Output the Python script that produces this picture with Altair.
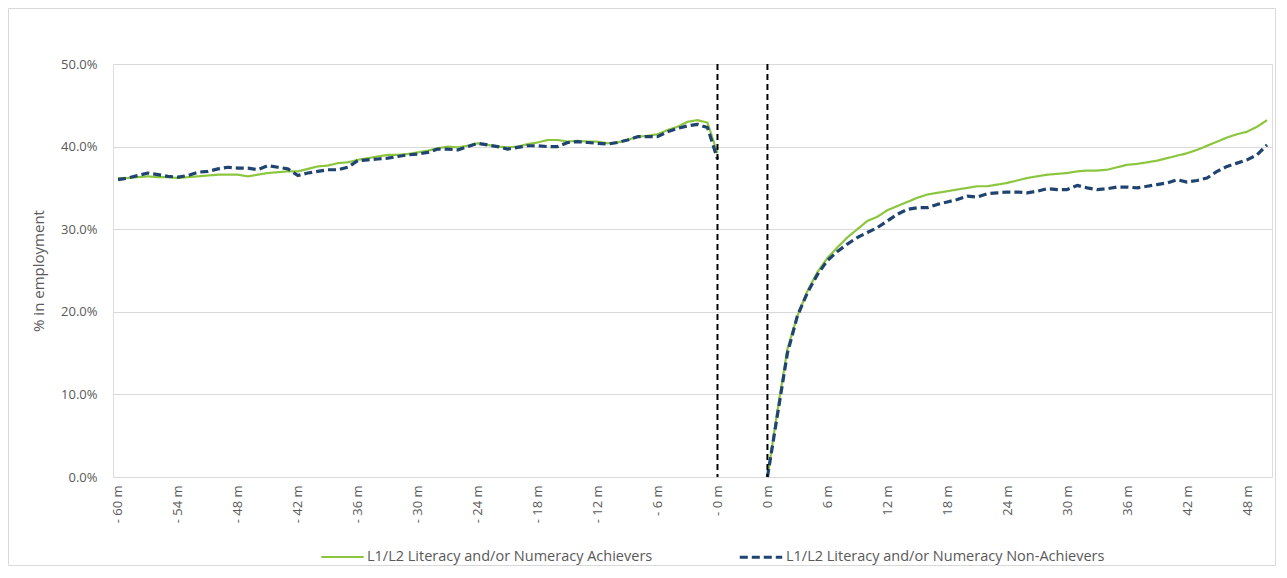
import altair as alt
import pandas as pd

# ---- categories -------------------------------------------------------
pre_months = list(range(60, -1, -1))          # -60 m ... -0 m
post_months = list(range(0, 51))              # 0 m ... 50 m
pre_labels = [f"- {m} m" for m in pre_months]
post_labels = [f"{m} m" for m in post_months]
gap_labels = ["gap1", "gap2", "gap3", "gap4"]  # empty categories between the two periods
all_labels = pre_labels + gap_labels + post_labels

tick_labels = ["- 60 m", "- 54 m", "- 48 m", "- 42 m", "- 36 m", "- 30 m",
               "- 24 m", "- 18 m", "- 12 m", "- 6 m", "- 0 m", "0 m", "6 m",
               "12 m", "18 m", "24 m", "30 m", "36 m", "42 m", "48 m"]
y_ticks = [0.0, 0.1, 0.2, 0.3, 0.4, 0.5]
rule_labels = ["- 0 m", "0 m"]

series_names = ["L1/L2 Literacy and/or Numeracy Achievers",
                "L1/L2 Literacy and/or Numeracy Non-Achievers"]

# ---- values (% in employment) ----------------------------------------
achievers_pre = [36.2, 36.2, 36.3, 36.4, 36.3, 36.3, 36.2, 36.3, 36.4, 36.5,
                 36.6, 36.6, 36.6, 36.4, 36.6, 36.8, 36.9, 37.0, 37.0, 37.3,
                 37.6, 37.7, 38.0, 38.1, 38.4, 38.6, 38.8, 39.0, 39.0, 39.1,
                 39.3, 39.5, 39.8, 40.0, 39.9, 40.1, 40.4, 40.2, 40.0, 39.9,
                 40.0, 40.3, 40.5, 40.8, 40.8, 40.6, 40.7, 40.6, 40.6, 40.4,
                 40.5, 40.8, 41.2, 41.3, 41.5, 42.0, 42.4, 43.0, 43.2, 42.9,
                 39.2]
nonach_pre = [36.0, 36.2, 36.5, 36.8, 36.6, 36.4, 36.3, 36.5, 36.9, 37.0,
              37.3, 37.5, 37.4, 37.4, 37.2, 37.7, 37.5, 37.3, 36.5, 36.8,
              37.0, 37.2, 37.2, 37.5, 38.3, 38.4, 38.5, 38.6, 38.8, 39.0,
              39.1, 39.3, 39.7, 39.7, 39.6, 40.0, 40.4, 40.2, 40.0, 39.7,
              39.9, 40.1, 40.1, 40.0, 40.0, 40.5, 40.6, 40.5, 40.4, 40.3,
              40.5, 40.8, 41.2, 41.2, 41.2, 41.8, 42.2, 42.5, 42.7, 42.3,
              38.5]
achievers_post = [0.0, 8.0, 15.5, 19.5, 22.5, 24.8, 26.5, 27.8, 29.0, 30.0,
                  31.0, 31.5, 32.3, 32.8, 33.3, 33.8, 34.2, 34.4, 34.6, 34.8,
                  35.0, 35.2, 35.2, 35.4, 35.6, 35.9, 36.2, 36.4, 36.6, 36.7,
                  36.8, 37.0, 37.1, 37.1, 37.2, 37.5, 37.8, 37.9, 38.1, 38.3,
                  38.6, 38.9, 39.2, 39.6, 40.1, 40.6, 41.1, 41.5, 41.8, 42.4,
                  43.2]
nonach_post = [0.0, 7.5, 15.0, 19.5, 22.3, 24.5, 26.2, 27.3, 28.2, 29.0,
               29.6, 30.2, 31.0, 31.8, 32.4, 32.6, 32.6, 33.0, 33.3, 33.6,
               34.0, 33.9, 34.3, 34.4, 34.5, 34.5, 34.4, 34.6, 34.9, 34.8,
               34.8, 35.3, 35.0, 34.8, 34.9, 35.1, 35.1, 35.0, 35.2, 35.4,
               35.6, 36.0, 35.7, 35.9, 36.2, 37.0, 37.6, 38.0, 38.4, 39.0,
               40.2]

# ---- table -------------------------------------------------------------
rows = []
for lab, a, n in zip(pre_labels, achievers_pre, nonach_pre):
    rows.append({"month": lab, "period": "pre", "series": series_names[0], "value": a / 100})
    rows.append({"month": lab, "period": "pre", "series": series_names[1], "value": n / 100})
for lab, a, n in zip(post_labels, achievers_post, nonach_post):
    rows.append({"month": lab, "period": "post", "series": series_names[0], "value": a / 100})
    rows.append({"month": lab, "period": "post", "series": series_names[1], "value": n / 100})
df = pd.DataFrame(rows)
rules_df = pd.DataFrame({"month": rule_labels})

GREEN = "#8CC63E"
NAVY = "#1F4471"
GREY_TXT = "#595959"
GRID = "#D9D9D9"

PLOT_W = 1159
PLOT_H = 413
PAD_L, PAD_T, PAD_R, PAD_B = 105, 56, 5, 90

x_scale = alt.Scale(domain=all_labels, type="point", padding=0.5)

x_enc = alt.X(
    "month:N",
    scale=x_scale,
    sort=None,
    axis=alt.Axis(
        values=tick_labels, labelAngle=-90, labelFont="Open Sans",
        labelFontSize=13, labelColor=GREY_TXT, labelPadding=8,
        ticks=False, domain=False, grid=False, title=None,
    ),
)

legend_cfg = dict(
    title=None, orient="none", direction="horizontal",
    legendX=207, legendY=470, symbolType="stroke",
    symbolSize=1800, symbolStrokeWidth=3, labelFont="Open Sans",
    labelFontSize=14.5, labelColor=GREY_TXT, labelLimit=600,
    columnPadding=80, labelOffset=2, padding=0,
)

lines = alt.Chart(df).mark_line(strokeJoin="round").encode(
    x=x_enc,
    y=alt.Y(
        "value:Q",
        scale=alt.Scale(domain=[0, 0.5], nice=False),
        axis=alt.Axis(
            values=y_ticks, format=".1%", labelFont="Open Sans",
            labelFontSize=13, labelColor=GREY_TXT, labelPadding=16,
            ticks=False, domain=False, grid=True, gridColor=GRID,
            gridWidth=1, title="% in employment", titleFont="Open Sans",
            titleFontSize=15, titleFontWeight="normal", titleColor=GREY_TXT,
            titlePadding=14,
        ),
    ),
    color=alt.Color(
        "series:N",
        scale=alt.Scale(domain=series_names, range=[GREEN, NAVY]),
        legend=alt.Legend(**legend_cfg),
    ),
    strokeDash=alt.StrokeDash(
        "series:N",
        scale=alt.Scale(domain=series_names, range=[[1, 0], [8, 4]]),
        legend=alt.Legend(**legend_cfg),
    ),
    strokeWidth=alt.StrokeWidth(
        "series:N",
        scale=alt.Scale(domain=series_names, range=[2.2, 3.2]),
        legend=None,
    ),
    detail="period:N",
)

rules = alt.Chart(rules_df).mark_rule(
    color="black", strokeDash=[6, 4], strokeWidth=2
).encode(x=alt.X("month:N", scale=x_scale, sort=None))

frame = alt.Chart(rules_df.head(1)).mark_rect(
    fill=None, stroke=GRID, strokeWidth=1
).encode(
    x=alt.value(-PAD_L + 0.5),
    x2=alt.value(PLOT_W + PAD_R - 1.5),
    y=alt.value(-PAD_T + 0.5),
    y2=alt.value(PLOT_H + PAD_B - 1.5),
)

chart = alt.layer(frame, lines, rules).properties(
    width=PLOT_W,
    height=PLOT_H,
    autosize=alt.AutoSizeParams(type="none"),
    padding={"left": PAD_L, "top": PAD_T, "right": PAD_R, "bottom": PAD_B},
).configure_view(stroke=None).configure(background="white")

chart.save("out.html", embed_options={"renderer": "svg", "actions": False})
